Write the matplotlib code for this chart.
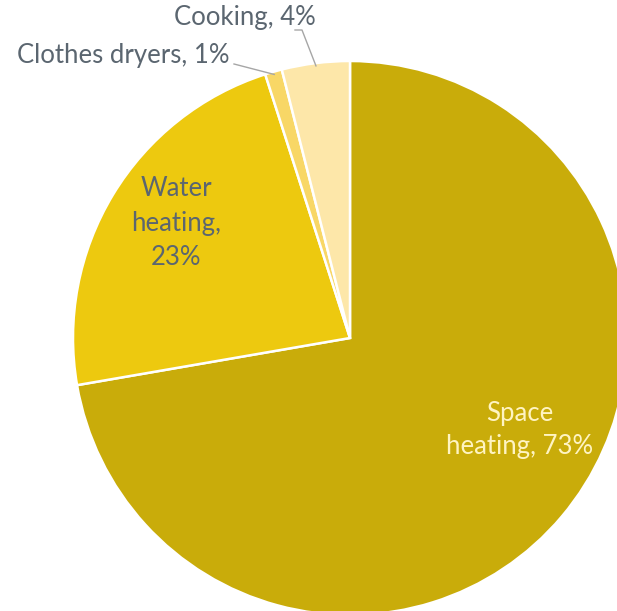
import matplotlib.pyplot as plt
import numpy as np

labels = ['Space\nheating, 73%', 'Water\nheating,\n23%', 'Clothes dryers, 1%', 'Cooking, 4%']
shares = [73, 23, 1, 4]
colors = ['#C9AC0A', '#EDC90F', '#F8D766', '#FDE7A9']

W, H = 617, 611
fig = plt.figure(figsize=(W / 100, H / 100), dpi=100)
ax = fig.add_axes([0, 0, 1, 1])

cx, cy, r = 350, H - 338, 277
wedges, _ = ax.pie(shares, colors=colors, startangle=90, counterclock=False,
                   center=(cx, cy), radius=r,
                   wedgeprops=dict(edgecolor='white', linewidth=1.8))
ax.set_xlim(0, W)
ax.set_ylim(0, H)
ax.axis('off')

plt.rcParams['font.family'] = ['Lato', 'DejaVu Sans']
grey = '#5B6670'
fs = 18.5

# labels inside the two big slices
ax.text(520, H - 430, labels[0], ha='center', va='center', fontsize=fs,
        color='#FFF4C2', linespacing=1.42)
ax.text(176, H - 223, labels[1], ha='center', va='center', fontsize=fs,
        color=grey, linespacing=1.48)

# outside labels with leader lines to the small slices
def edge_point(w, frac=1.0):
    a = np.deg2rad((w.theta1 + w.theta2) / 2)
    return cx + frac * r * np.cos(a), cy + frac * r * np.sin(a)

ax.text(17, H - 55, labels[2], ha='left', va='center', fontsize=fs, color=grey)
ex, ey = edge_point(wedges[2], 0.99)
ax.plot([234, ex], [H - 64, ey], color='#A6A6A6', lw=1)

ax.text(245, H - 18, labels[3], ha='center', va='center', fontsize=fs, color=grey)
ex, ey = edge_point(wedges[3], 0.99)
ax.plot([295, 302, ex], [H - 30, H - 30, ey], color='#A6A6A6', lw=1)

fig.savefig('out.png', dpi=100)
